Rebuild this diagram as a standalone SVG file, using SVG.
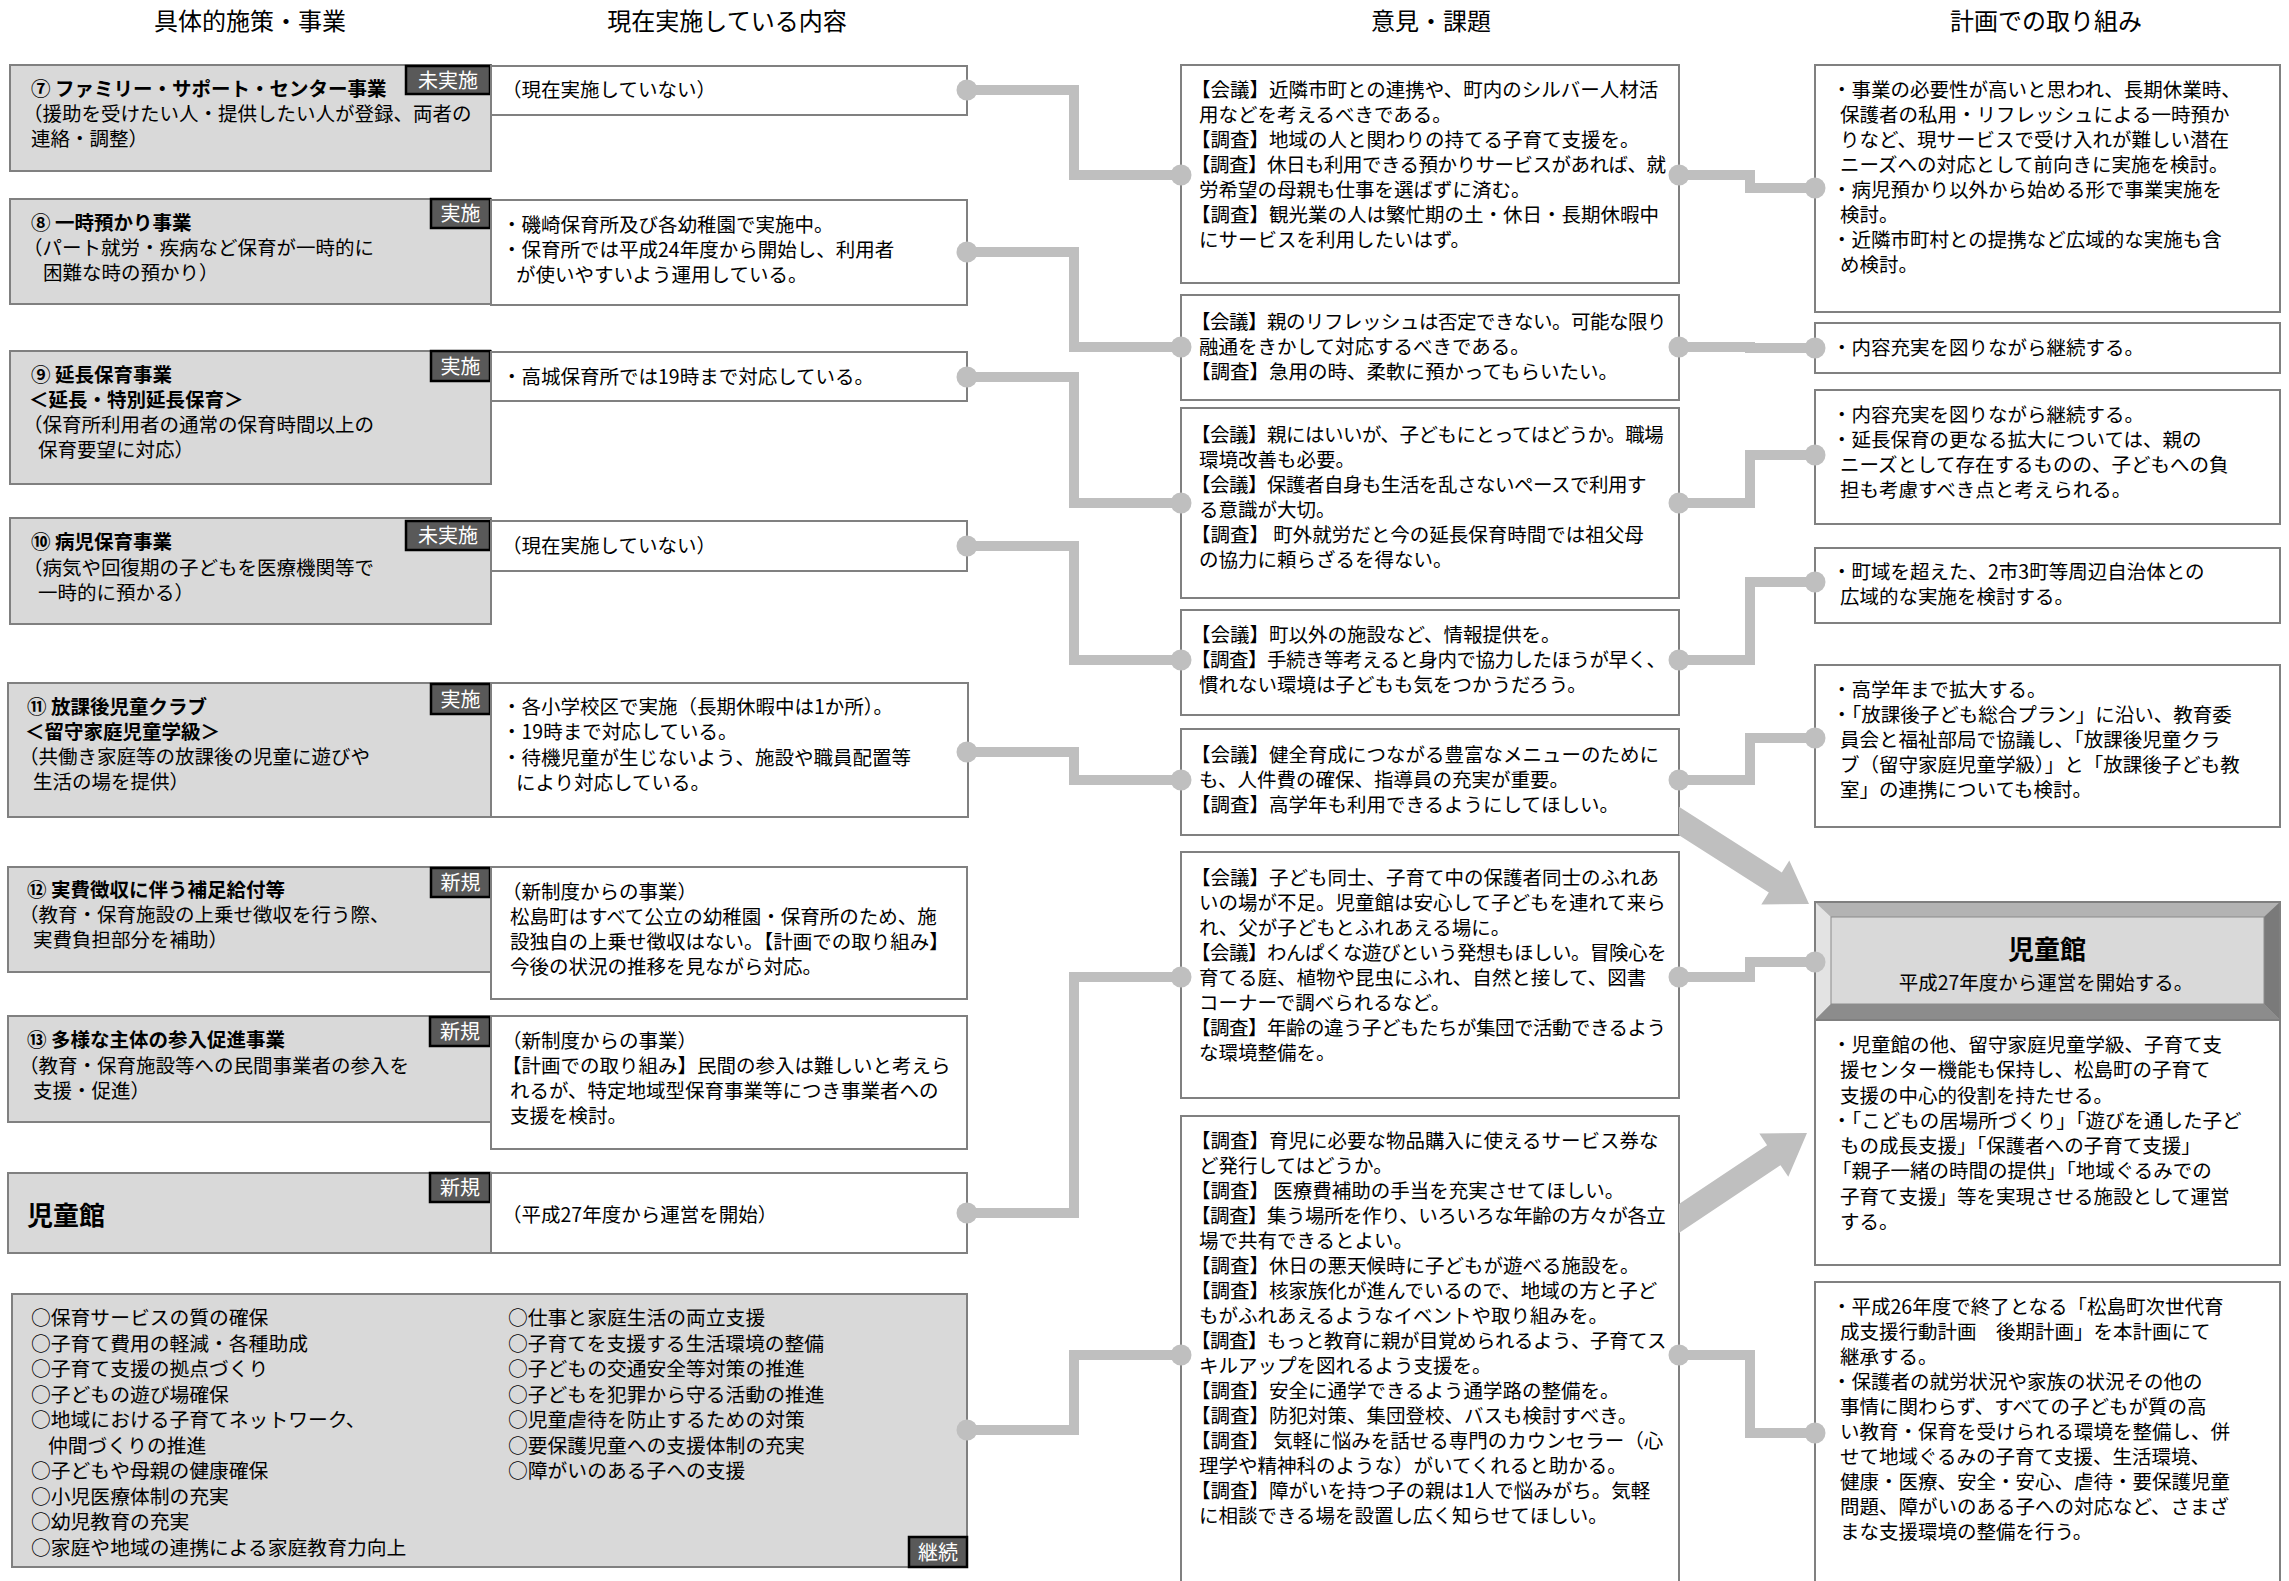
<svg xmlns="http://www.w3.org/2000/svg" width="2289" height="1581" viewBox="0 0 2289 1581">
<defs>
<style>
text{font-family:"Noto Sans CJK JP","Noto Sans",sans-serif;font-size:19.5px;fill:#000}
.h{font-size:24px;text-anchor:middle}
.b{font-weight:bold}
.n{letter-spacing:-0.5px}
.big{font-size:19.8px}
.gbox{fill:#d9d9d9;stroke:#808080;stroke-width:2}
.wbox{fill:#fff;stroke:#808080;stroke-width:2}
.badge{fill:#595959;stroke:#000;stroke-width:2.5}
.bt{fill:#fff;font-size:20px;text-anchor:middle}
.conn{fill:none;stroke:#bfbfbf;stroke-width:10;stroke-linejoin:miter}
.dot{fill:#bfbfbf}
.arrow{fill:#bfbfbf}
</style>
</defs>
<rect width="2289" height="1581" fill="#fff"/>

<g id="headers">
<text class="h" x="250" y="30">具体的施策・事業</text>
<text class="h" x="727" y="30">現在実施している内容</text>
<text class="h" x="1431" y="30">意見・課題</text>
<text class="h" x="2046" y="30">計画での取り組み</text>
</g>

<g id="item7">
<rect class="gbox" x="10" y="65" width="481" height="106"/>
<rect class="badge" x="406" y="66" width="84" height="28"/>
<text class="bt" x="448" y="87.5">未実施</text>
<text><tspan class="b" x="31" y="96">⑦ ファミリー・サポート・センター事業</tspan><tspan x="23" y="121">（援助を受けたい人・提供したい人が登録、両者の</tspan><tspan x="31" y="146">連絡・調整）</tspan></text>
</g>
<g id="current7">
<rect class="wbox" x="491" y="66" width="476" height="49"/>
<text x="502" y="97">（現在実施していない）</text>
</g>

<g id="item8">
<rect class="gbox" x="10" y="199" width="481" height="105"/>
<rect class="badge" x="431" y="199" width="59" height="29"/>
<text class="bt" x="460.5" y="221">実施</text>
<text><tspan class="b" x="31" y="230">⑧ 一時預かり事業</tspan><tspan x="23" y="255">（パート就労・疾病など保育が一時的に</tspan><tspan x="43" y="280">困難な時の預かり）</tspan></text>
</g>
<g id="current8">
<rect class="wbox" x="491" y="200" width="476" height="105"/>
<text><tspan x="502" y="232">・磯崎保育所及び各幼稚園で実施中。</tspan><tspan x="502" y="257">・保育所では平成24年度から開始し、利用者</tspan><tspan x="516" y="282">が使いやすいよう運用している。</tspan></text>
</g>

<g id="item9">
<rect class="gbox" x="10" y="351" width="481" height="133"/>
<rect class="badge" x="431" y="351" width="59" height="30"/>
<text class="bt" x="460.5" y="373.5">実施</text>
<text><tspan class="b" x="31" y="382">⑨ 延長保育事業</tspan><tspan class="b" x="29" y="407">＜延長・特別延長保育＞</tspan><tspan x="23" y="432">（保育所利用者の通常の保育時間以上の</tspan><tspan x="38" y="457">保育要望に対応）</tspan></text>
</g>
<g id="current9">
<rect class="wbox" x="491" y="352" width="476" height="49"/>
<text x="502" y="384">・高城保育所では19時まで対応している。</text>
</g>

<g id="item10">
<rect class="gbox" x="10" y="518" width="481" height="106"/>
<rect class="badge" x="406" y="521" width="84" height="29"/>
<text class="bt" x="448" y="543">未実施</text>
<text><tspan class="b" x="31" y="549">⑩ 病児保育事業</tspan><tspan x="23" y="575">（病気や回復期の子どもを医療機関等で</tspan><tspan x="38" y="600">一時的に預かる）</tspan></text>
</g>
<g id="current10">
<rect class="wbox" x="491" y="521" width="476" height="50"/>
<text x="502" y="553">（現在実施していない）</text>
</g>

<g id="item11">
<rect class="gbox" x="8" y="683" width="483" height="134"/>
<rect class="badge" x="431" y="684" width="59" height="30"/>
<text class="bt" x="460.5" y="706.5">実施</text>
<text><tspan class="b" x="27" y="714">⑪ 放課後児童クラブ</tspan><tspan class="b" x="25" y="739">＜留守家庭児童学級＞</tspan><tspan x="19" y="764">（共働き家庭等の放課後の児童に遊びや</tspan><tspan x="33" y="789">生活の場を提供）</tspan></text>
</g>
<g id="current11">
<rect class="wbox" x="491" y="683" width="477" height="134"/>
<text><tspan x="502" y="714">・各小学校区で実施（長期休暇中は1か所）。</tspan><tspan x="502" y="739">・19時まで対応している。</tspan><tspan x="502" y="765">・待機児童が生じないよう、施設や職員配置等</tspan><tspan x="516" y="790">により対応している。</tspan></text>
</g>

<g id="item12">
<rect class="gbox" x="8" y="867" width="483" height="105"/>
<rect class="badge" x="431" y="868" width="59" height="29"/>
<text class="bt" x="460.5" y="890">新規</text>
<text><tspan class="b" x="27" y="897">⑫ 実費徴収に伴う補足給付等</tspan><tspan x="19" y="922">（教育・保育施設の上乗せ徴収を行う際、</tspan><tspan x="33" y="947">実費負担部分を補助）</tspan></text>
</g>
<g id="current12">
<rect class="wbox" x="491" y="867" width="476" height="132"/>
<text><tspan x="502" y="899">（新制度からの事業）</tspan><tspan x="510" y="924">松島町はすべて公立の幼稚園・保育所のため、施</tspan><tspan x="510" y="949">設独自の上乗せ徴収はない。【計画での取り組み】</tspan><tspan x="510" y="974">今後の状況の推移を見ながら対応。</tspan></text>
</g>

<g id="item13">
<rect class="gbox" x="8" y="1016" width="483" height="106"/>
<rect class="badge" x="430" y="1017" width="60" height="29"/>
<text class="bt" x="460" y="1039">新規</text>
<text><tspan class="b" x="27" y="1047">⑬ 多様な主体の参入促進事業</tspan><tspan x="19" y="1073">（教育・保育施設等への民間事業者の参入を</tspan><tspan x="33" y="1098">支援・促進）</tspan></text>
</g>
<g id="current13">
<rect class="wbox" x="491" y="1016" width="476" height="133"/>
<text><tspan x="502" y="1048">（新制度からの事業）</tspan><tspan x="502" y="1073">【計画での取り組み】民間の参入は難しいと考えら</tspan><tspan x="510" y="1098">れるが、特定地域型保育事業等につき事業者への</tspan><tspan x="510" y="1123">支援を検討。</tspan></text>
</g>

<g id="item14">
<rect class="gbox" x="8" y="1173" width="483" height="80"/>
<rect class="badge" x="430" y="1173" width="60" height="29"/>
<text class="bt" x="460" y="1195">新規</text>
<text class="b" x="27" y="1225" style="font-size:26px">児童館</text>
</g>
<g id="current14">
<rect class="wbox" x="491" y="1173" width="476" height="80"/>
<text x="502" y="1222">（平成27年度から運営を開始）</text>
</g>

<g id="continuing">
<rect class="gbox" x="12" y="1294" width="955" height="273"/>
<rect class="badge" x="909" y="1537" width="58" height="30"/>
<text class="bt" x="938" y="1559.5">継続</text>
<text class="big"><tspan x="31" y="1325">○保育サービスの質の確保</tspan><tspan x="31" y="1350.5">○子育て費用の軽減・各種助成</tspan><tspan x="31" y="1376">○子育て支援の拠点づくり</tspan><tspan x="31" y="1401.5">○子どもの遊び場確保</tspan><tspan x="31" y="1427">○地域における子育てネットワーク、</tspan><tspan x="48" y="1452.5">仲間づくりの推進</tspan><tspan x="31" y="1478">○子どもや母親の健康確保</tspan><tspan x="31" y="1503.5">○小児医療体制の充実</tspan><tspan x="31" y="1529">○幼児教育の充実</tspan><tspan x="31" y="1554.5">○家庭や地域の連携による家庭教育力向上</tspan></text>
<text class="big"><tspan x="508" y="1325">○仕事と家庭生活の両立支援</tspan><tspan x="508" y="1350.5">○子育てを支援する生活環境の整備</tspan><tspan x="508" y="1376">○子どもの交通安全等対策の推進</tspan><tspan x="508" y="1401.5">○子どもを犯罪から守る活動の推進</tspan><tspan x="508" y="1427">○児童虐待を防止するための対策</tspan><tspan x="508" y="1452.5">○要保護児童への支援体制の充実</tspan><tspan x="508" y="1478">○障がいのある子への支援</tspan></text>
</g>

<g id="opinionA">
<rect class="wbox" x="1181" y="65" width="498" height="218"/>
<text><tspan x="1191" y="97">【会議】近隣市町との連携や、町内のシルバー人材活</tspan><tspan x="1199" y="122">用などを考えるべきである。</tspan><tspan x="1191" y="147">【調査】地域の人と関わりの持てる子育て支援を。</tspan><tspan class="n" x="1191" y="172">【調査】休日も利用できる預かりサービスがあれば、就</tspan><tspan x="1199" y="197">労希望の母親も仕事を選ばずに済む。</tspan><tspan x="1191" y="222">【調査】観光業の人は繁忙期の土・休日・長期休暇中</tspan><tspan x="1199" y="247">にサービスを利用したいはず。</tspan></text>
</g>
<g id="opinionB">
<rect class="wbox" x="1181" y="295" width="498" height="105"/>
<text><tspan class="n" x="1191" y="329">【会議】親のリフレッシュは否定できない。可能な限り</tspan><tspan x="1199" y="354">融通をきかして対応するべきである。</tspan><tspan x="1191" y="379">【調査】急用の時、柔軟に預かってもらいたい。</tspan></text>
</g>
<g id="opinionC">
<rect class="wbox" x="1181" y="408" width="498" height="190"/>
<text><tspan class="n" x="1191" y="442">【会議】親にはいいが、子どもにとってはどうか。職場</tspan><tspan x="1199" y="467">環境改善も必要。</tspan><tspan class="n" x="1191" y="492">【会議】保護者自身も生活を乱さないペースで利用す</tspan><tspan x="1199" y="517">る意識が大切。</tspan><tspan x="1191" y="542">【調査】 町外就労だと今の延長保育時間では祖父母</tspan><tspan x="1199" y="567">の協力に頼らざるを得ない。</tspan></text>
</g>
<g id="opinionD">
<rect class="wbox" x="1181" y="610" width="498" height="105"/>
<text><tspan x="1191" y="642">【会議】町以外の施設など、情報提供を。</tspan><tspan class="n" x="1191" y="667">【調査】手続き等考えると身内で協力したほうが早く、</tspan><tspan x="1199" y="692">慣れない環境は子どもも気をつかうだろう。</tspan></text>
</g>
<g id="opinionE">
<rect class="wbox" x="1181" y="729" width="498" height="106"/>
<text><tspan x="1191" y="762">【会議】健全育成につながる豊富なメニューのために</tspan><tspan x="1199" y="787">も、人件費の確保、指導員の充実が重要。</tspan><tspan x="1191" y="812">【調査】高学年も利用できるようにしてほしい。</tspan></text>
</g>
<g id="opinionF">
<rect class="wbox" x="1181" y="852" width="498" height="246"/>
<text><tspan x="1191" y="885">【会議】子ども同士、子育て中の保護者同士のふれあ</tspan><tspan x="1199" y="910">いの場が不足。児童館は安心して子どもを連れて来ら</tspan><tspan x="1199" y="935">れ、父が子どもとふれあえる場に。</tspan><tspan class="n" x="1191" y="960">【会議】わんぱくな遊びという発想もほしい。冒険心を</tspan><tspan x="1199" y="985">育てる庭、植物や昆虫にふれ、自然と接して、図書</tspan><tspan x="1199" y="1010">コーナーで調べられるなど。</tspan><tspan class="n" x="1191" y="1035">【調査】年齢の違う子どもたちが集団で活動できるよう</tspan><tspan x="1199" y="1060">な環境整備を。</tspan></text>
</g>
<g id="opinionG">
<rect class="wbox" x="1181" y="1116" width="498" height="480"/>
<text><tspan x="1191" y="1148">【調査】育児に必要な物品購入に使えるサービス券な</tspan><tspan x="1199" y="1173">ど発行してはどうか。</tspan><tspan x="1191" y="1198">【調査】 医療費補助の手当を充実させてほしい。</tspan><tspan class="n" x="1191" y="1223">【調査】集う場所を作り、いろいろな年齢の方々が各立</tspan><tspan x="1199" y="1248">場で共有できるとよい。</tspan><tspan x="1191" y="1273">【調査】休日の悪天候時に子どもが遊べる施設を。</tspan><tspan x="1191" y="1298">【調査】核家族化が進んでいるので、地域の方と子ど</tspan><tspan x="1199" y="1323">もがふれあえるようなイベントや取り組みを。</tspan><tspan class="n" x="1191" y="1348">【調査】もっと教育に親が目覚められるよう、子育てス</tspan><tspan x="1199" y="1373">キルアップを図れるよう支援を。</tspan><tspan x="1191" y="1398">【調査】安全に通学できるよう通学路の整備を。</tspan><tspan x="1191" y="1423">【調査】防犯対策、集団登校、バスも検討すべき。</tspan><tspan x="1191" y="1448">【調査】 気軽に悩みを話せる専門のカウンセラー（心</tspan><tspan x="1199" y="1473">理学や精神科のような）がいてくれると助かる。</tspan><tspan x="1191" y="1498">【調査】障がいを持つ子の親は1人で悩みがち。気軽</tspan><tspan x="1199" y="1523">に相談できる場を設置し広く知らせてほしい。</tspan></text>
</g>

<g id="planP1">
<rect class="wbox" x="1815" y="65" width="465" height="247"/>
<text><tspan x="1832" y="97">・事業の必要性が高いと思われ、長期休業時、</tspan><tspan x="1840" y="122">保護者の私用・リフレッシュによる一時預か</tspan><tspan x="1840" y="147">りなど、現サービスで受け入れが難しい潜在</tspan><tspan x="1840" y="172">ニーズへの対応として前向きに実施を検討。</tspan><tspan x="1832" y="197">・病児預かり以外から始める形で事業実施を</tspan><tspan x="1840" y="222">検討。</tspan><tspan x="1832" y="247">・近隣市町村との提携など広域的な実施も含</tspan><tspan x="1840" y="272">め検討。</tspan></text>
</g>
<g id="planP2">
<rect class="wbox" x="1815" y="323" width="465" height="50"/>
<text x="1832" y="355">・内容充実を図りながら継続する。</text>
</g>
<g id="planP3">
<rect class="wbox" x="1815" y="390" width="465" height="134"/>
<text><tspan x="1832" y="422">・内容充実を図りながら継続する。</tspan><tspan x="1832" y="447">・延長保育の更なる拡大については、親の</tspan><tspan x="1840" y="472">ニーズとして存在するものの、子どもへの負</tspan><tspan x="1840" y="497">担も考慮すべき点と考えられる。</tspan></text>
</g>
<g id="planP4">
<rect class="wbox" x="1815" y="548" width="465" height="75"/>
<text><tspan x="1832" y="579">・町域を超えた、2市3町等周辺自治体との</tspan><tspan x="1840" y="604">広域的な実施を検討する。</tspan></text>
</g>
<g id="planP5">
<rect class="wbox" x="1815" y="665" width="465" height="162"/>
<text><tspan x="1832" y="697">・高学年まで拡大する。</tspan><tspan x="1832" y="722">・「放課後子ども総合プラン」に沿い、教育委</tspan><tspan x="1840" y="747">員会と福祉部局で協議し、「放課後児童クラ</tspan><tspan x="1840" y="772">ブ（留守家庭児童学級）」と「放課後子ども教</tspan><tspan x="1840" y="797">室」の連携についても検討。</tspan></text>
</g>
<g id="jidoukan">
<rect x="1815" y="902" width="465" height="118" fill="#a6a6a6" stroke="#7f7f7f" stroke-width="2"/>
<polygon points="1815,902 2280,902 2264,917 1831,917" fill="#b3b3b3"/>
<polygon points="1815,902 1831,917 1831,1004 1815,1020" fill="#e3e3e3"/>
<polygon points="2280,902 2264,917 2264,1004 2280,1020" fill="#7a7a7a"/>
<polygon points="1815,1020 1831,1004 2264,1004 2280,1020" fill="#8c8c8c"/>
<rect x="1831" y="917" width="433" height="87" fill="#d9d9d9" stroke="#8c8c8c" stroke-width="1"/>
<rect x="1815" y="902" width="465" height="118" fill="none" stroke="#7f7f7f" stroke-width="2"/>
<text class="b" x="2047" y="959" text-anchor="middle" style="font-size:26px">児童館</text>
<text x="2046" y="990" text-anchor="middle">平成27年度から運営を開始する。</text>
</g>
<g id="planP6">
<rect class="wbox" x="1815" y="1020" width="465" height="245"/>
<text><tspan x="1832" y="1052">・児童館の他、留守家庭児童学級、子育て支</tspan><tspan x="1840" y="1077">援センター機能も保持し、松島町の子育て</tspan><tspan x="1840" y="1103">支援の中心的役割を持たせる。</tspan><tspan x="1832" y="1128">・「こどもの居場所づくり」「遊びを通した子ど</tspan><tspan x="1840" y="1153">もの成長支援」「保護者への子育て支援」</tspan><tspan x="1832" y="1178">「親子一緒の時間の提供」「地域ぐるみでの</tspan><tspan x="1840" y="1204">子育て支援」等を実現させる施設として運営</tspan><tspan x="1840" y="1229">する。</tspan></text>
</g>
<g id="planP7">
<rect class="wbox" x="1815" y="1282" width="465" height="314"/>
<text><tspan x="1832" y="1314">・平成26年度で終了となる「松島町次世代育</tspan><tspan x="1840" y="1339">成支援行動計画　後期計画」を本計画にて</tspan><tspan x="1840" y="1364">継承する。</tspan><tspan x="1832" y="1389">・保護者の就労状況や家族の状況その他の</tspan><tspan x="1840" y="1414">事情に関わらず、すべての子どもが質の高</tspan><tspan x="1840" y="1439">い教育・保育を受けられる環境を整備し、併</tspan><tspan x="1840" y="1464">せて地域ぐるみの子育て支援、生活環境、</tspan><tspan x="1840" y="1489">健康・医療、安全・安心、虐待・要保護児童</tspan><tspan x="1840" y="1514">問題、障がいのある子への対応など、さまざ</tspan><tspan x="1840" y="1539">まな支援環境の整備を行う。</tspan></text>
</g>

<g id="connectors">
<path class="conn" d="M967 90 H1074 V175 H1181"/>
<path class="conn" d="M967 252 H1074 V347 H1181"/>
<path class="conn" d="M967 377 H1074 V503 H1181"/>
<path class="conn" d="M967 546 H1074 V660 H1181"/>
<path class="conn" d="M967 752 H1074 V780 H1181"/>
<path class="conn" d="M967 1213 H1074 V977 H1181"/>
<path class="conn" d="M967 1430 H1074 V1355 H1181"/>
<path class="conn" d="M1679 175 H1750 V188 H1815"/>
<path class="conn" d="M1679 347 H1750 V348 H1815"/>
<path class="conn" d="M1679 503 H1750 V455 H1815"/>
<path class="conn" d="M1679 660 H1750 V582 H1815"/>
<path class="conn" d="M1679 780 H1750 V738 H1815"/>
<path class="conn" d="M1679 977 H1750 V962 H1815"/>
<path class="conn" d="M1679 1355 H1750 V1433 H1815"/>
<polygon class="arrow" points="1679,806.8 1781.8,872.4 1789.3,860.6 1809,904 1761.3,904.4 1768.8,892.6 1679,835.3"/>
<polygon class="arrow" points="1679,1204.1 1767.1,1145.2 1759.3,1133.6 1807,1133 1788.3,1176.8 1780.5,1165.2 1679,1233.1"/>
<g class="dot">
<circle cx="967" cy="90" r="10.5"/><circle cx="967" cy="252" r="10.5"/><circle cx="967" cy="377" r="10.5"/><circle cx="967" cy="546" r="10.5"/><circle cx="967" cy="752" r="10.5"/><circle cx="967" cy="1213" r="10.5"/><circle cx="967" cy="1430" r="10.5"/>
<circle cx="1181" cy="175" r="10.5"/><circle cx="1181" cy="347" r="10.5"/><circle cx="1181" cy="503" r="10.5"/><circle cx="1181" cy="660" r="10.5"/><circle cx="1181" cy="780" r="10.5"/><circle cx="1181" cy="977" r="10.5"/><circle cx="1181" cy="1355" r="10.5"/>
<circle cx="1679" cy="175" r="10.5"/><circle cx="1679" cy="347" r="10.5"/><circle cx="1679" cy="503" r="10.5"/><circle cx="1679" cy="660" r="10.5"/><circle cx="1679" cy="780" r="10.5"/><circle cx="1679" cy="977" r="10.5"/><circle cx="1679" cy="1355" r="10.5"/>
<circle cx="1815" cy="188" r="10.5"/><circle cx="1815" cy="348" r="10.5"/><circle cx="1815" cy="455" r="10.5"/><circle cx="1815" cy="582" r="10.5"/><circle cx="1815" cy="738" r="10.5"/><circle cx="1815" cy="962" r="10.5"/><circle cx="1815" cy="1433" r="10.5"/>
</g>
</g>
</svg>
